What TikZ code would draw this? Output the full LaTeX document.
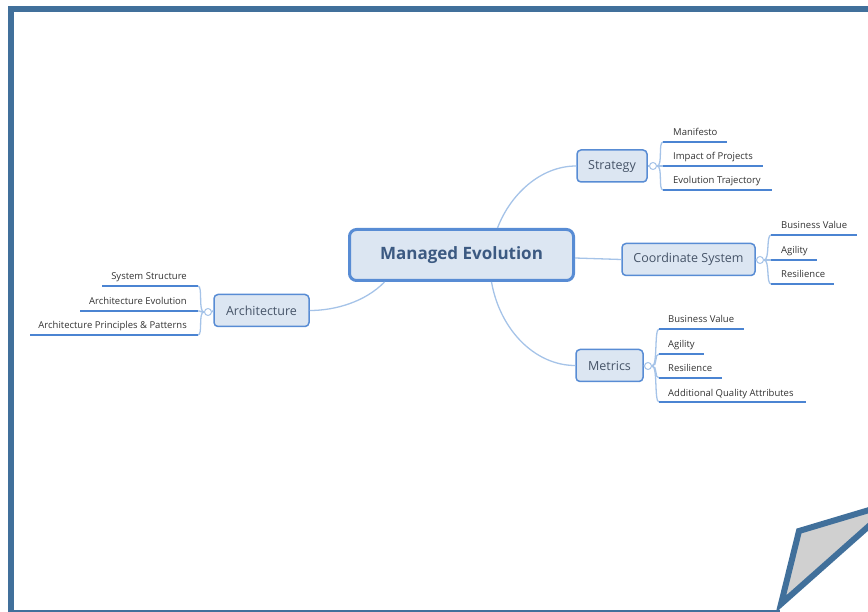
\documentclass[tikz,border=0pt]{standalone}
\usepackage{fontspec}
\setmainfont{Open Sans}
\usetikzlibrary{calc}

\definecolor{frameblue}{RGB}{65,112,155}
\definecolor{boxfill}{RGB}{220,230,242}
\definecolor{boxline}{RGB}{88,140,212}
\definecolor{branchblue}{RGB}{165,195,232}
\definecolor{ulineblue}{RGB}{75,132,210}
\definecolor{labeltxt}{RGB}{70,84,104}
\definecolor{maintxt}{RGB}{60,90,130}
\definecolor{leaftxt}{RGB}{50,50,50}
\definecolor{curlfill}{RGB}{208,208,208}

\begin{document}
\begin{tikzpicture}[x=1pt,y=-1pt,
  topic/.style={draw=boxline, fill=boxfill, line width=1.5pt, rounded corners=4pt,
    minimum height=32pt, inner sep=0pt, text=labeltxt, font=\fontsize{12.5}{14}\selectfont},
  central/.style={draw=boxline, fill=boxfill, line width=3pt, rounded corners=7pt,
    minimum width=224pt, minimum height=51pt, inner sep=0pt, text=maintxt,
    font=\fontsize{17}{20}\selectfont\bfseries},
  link/.style={draw=branchblue, line width=1.3pt},
  knob/.style={circle, draw=branchblue, fill=white, line width=1pt, minimum size=7pt, inner sep=0pt},
  leaf/.style={inner sep=0pt, text=leaftxt, font=\fontsize{9.5}{11}\selectfont},
  underlinepath/.style={draw=ulineblue, line width=2pt},
]
\useasboundingbox (0,0) rectangle (868,612);
\clip (0,0) rectangle (868,612);

% page frame with curled corner
\draw[frameblue, line width=6pt] (880,9) -- (11,9) -- (11,612.5) -- (780,612.5);
\filldraw[fill=curlfill, draw=frameblue, line width=6pt, line join=miter, miter limit=6]
  (781,604) -- (799,531) -- (896,502) -- cycle;

% topics
\node[central] (main) at (461.5,255) {\raisebox{-1pt}{Managed Evolution}};
\node[topic, minimum width=70pt] (strat) at (612,166) {\raisebox{-1pt}{Strategy}};
\node[topic, minimum width=133pt] (coord) at (688.5,259.5) {\raisebox{-1pt}{Coordinate System}};
\node[topic, minimum width=67pt] (metr) at (609.5,365.5) {Metrics};
\node[topic, minimum width=95pt] (arch) at (261.5,310.5) {Architecture};

% main branches
\draw[link] ([xshift=36pt]main.north) .. controls (510,195) and (540,166) .. (strat.west);
\draw[link] ([yshift=-3pt]main.east) -- (coord.west);
\draw[link] ([xshift=30pt]main.south) .. controls (500,330) and (535,365.5) .. (metr.west);
\draw[link] ([xshift=-77pt]main.south) .. controls (365,302) and (335,310.5) .. (arch.east);

% knobs
\node[knob] (sk) at (653,166) {};
\node[knob] (ck) at (760,260) {};
\node[knob] (mk) at (648,366) {};
\node[knob] (ak) at (208,312) {};
\draw[link] (strat.east) -- (sk.west);
\draw[link] (coord.east) -- (ck.west);
\draw[link] (metr.east) -- (mk.west);
\draw[link] (arch.west) -- (ak.east);

% Strategy subtopics
\foreach \n/\y/\e/\t in {s1/142/727/Manifesto, s2/166/763/Impact of Projects, s3/190/772/Evolution Trajectory} {
  \coordinate (\n a) at (663,\y);
  \coordinate (\n b) at (\e,\y);
  \draw[link] (sk.east) .. controls +(6,0) and +(-5,0) .. (\n a);
  \draw[underlinepath] (\n a) -- (\n b);
  \node[leaf, anchor=base west] (\n) at (673,\y-6) {\t};
}

% Coordinate System subtopics
\foreach \n/\y/\e/\t in {c1/235/857/Business Value, c2/260/817/Agility, c3/284/834/Resilience} {
  \coordinate (\n a) at (771,\y);
  \coordinate (\n b) at (\e,\y);
  \draw[link] (ck.east) .. controls +(6,0) and +(-5,0) .. (\n a);
  \draw[underlinepath] (\n a) -- (\n b);
  \node[leaf, anchor=base west] (\n) at (781,\y-6) {\t};
}

% Metrics subtopics
\foreach \n/\y/\e/\t in {m1/329/744/Business Value, m2/354/704/Agility, m3/378/722/Resilience, m4/402/806/Additional Quality Attributes} {
  \coordinate (\n a) at (659,\y);
  \coordinate (\n b) at (\e,\y);
  \draw[link] (mk.east) .. controls +(6,0) and +(-5,0) .. (\n a);
  \draw[underlinepath] (\n a) -- (\n b);
  \node[leaf, anchor=base west] (\n) at (668,\y-6) {\t};
}

% Architecture subtopics
\foreach \n/\y/\s/\t in {a1/286/102/System Structure, a2/311/80/Architecture Evolution, a3/335/30/Architecture Principles \& Patterns} {
  \coordinate (\n a) at (198,\y);
  \coordinate (\n b) at (\s,\y);
  \draw[link] (ak.west) .. controls +(-6,0) and +(5,0) .. (\n a);
  \draw[underlinepath] (\n a) -- (\n b);
  \node[leaf, anchor=base east] (\n) at (187,\y-6) {\t};
}
\end{tikzpicture}
\end{document}
